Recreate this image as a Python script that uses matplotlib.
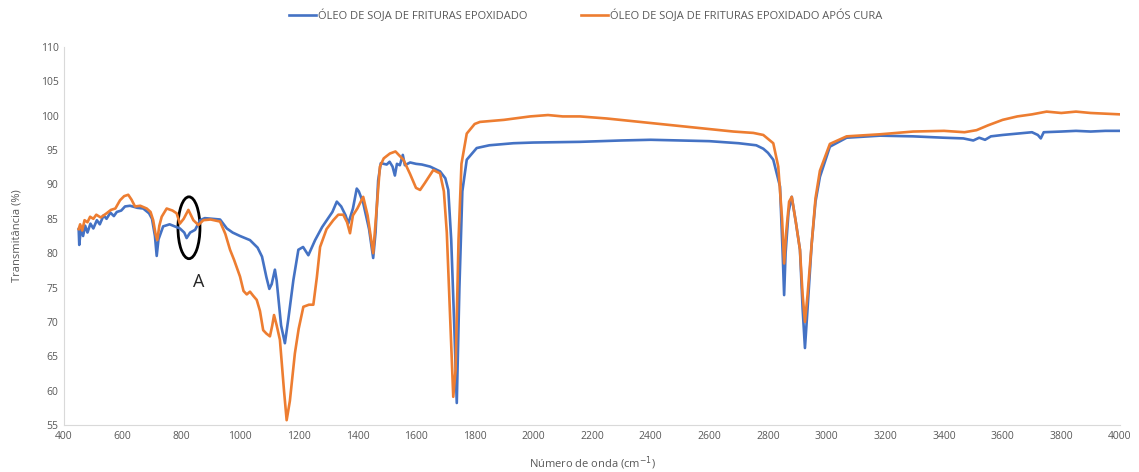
import matplotlib
matplotlib.use('Agg')
import matplotlib.pyplot as plt
from matplotlib.patches import Ellipse

# wavenumber (cm-1) / transmittance (%)
blue_x = [450, 452, 458, 465, 472, 480, 490, 500, 512, 522, 535, 545, 558, 570, 580,
          595, 608, 625, 650, 670, 690, 700, 710, 716, 722, 738, 760, 795, 810, 818,
          830, 847, 864, 880, 932, 955, 975, 1000, 1034, 1060, 1075, 1090, 1100, 1108,
          1119, 1125, 1140, 1153, 1165, 1182, 1199, 1215, 1233, 1256, 1280, 1296, 1315,
          1330, 1345, 1360, 1369, 1385, 1398, 1405, 1420, 1440, 1454, 1462, 1471, 1480,
          1500, 1510, 1520, 1528, 1535, 1545, 1555, 1562, 1580, 1600, 1620, 1648, 1682,
          1700, 1710, 1720, 1730, 1739, 1748, 1758, 1773, 1807, 1850, 1932, 2000, 2159,
          2300, 2400, 2500, 2600, 2700, 2760, 2784, 2800, 2818, 2841, 2850, 2855, 2860,
          2870, 2881, 2895, 2909, 2918, 2926, 2935, 2949, 2962, 2977, 3011, 3068, 3182,
          3295, 3400, 3466, 3500, 3520, 3540, 3560, 3600, 3650, 3700, 3720, 3730, 3740,
          3800, 3850, 3900, 3950, 4000]
blue_y = [83.5, 81.2, 83.8, 82.5, 84.0, 83.0, 84.3, 83.6, 84.8, 84.2, 85.5, 85.0, 85.9,
          85.4, 86.0, 86.2, 86.8, 86.9, 86.6, 86.5, 85.8, 85.0, 82.5, 79.6, 82.0, 83.9,
          84.2, 83.6, 83.0, 82.2, 83.0, 83.4, 84.8, 85.1, 84.9, 83.6, 83.0, 82.5, 81.9,
          80.8, 79.5, 76.5, 74.8, 75.5, 77.6, 76.0, 69.5, 66.9, 70.5, 76.1, 80.5, 80.9,
          79.7, 81.9, 83.8, 84.8, 86.0, 87.5, 86.8, 85.5, 84.3, 86.5, 89.4, 89.0, 87.3,
          83.5, 79.3, 83.0, 90.6, 93.1, 92.9, 93.3, 92.6, 91.3, 93.0, 92.8, 94.3, 92.8,
          93.2, 93.0, 92.9, 92.6, 91.9, 90.9, 89.2, 82.0, 70.0, 58.2, 75.0, 89.0, 93.6,
          95.3, 95.7, 96.0, 96.1, 96.2, 96.4, 96.5, 96.4, 96.3, 96.0, 95.7, 95.2, 94.6,
          93.6, 89.7, 80.0, 73.9, 80.0, 86.0, 88.2, 84.5, 80.5, 72.0, 66.2, 72.0, 81.4,
          87.5, 91.1, 95.5, 96.8, 97.1, 97.0, 96.8, 96.7, 96.4, 96.8, 96.5, 97.0, 97.2,
          97.4, 97.6, 97.2, 96.7, 97.6, 97.7, 97.8, 97.7, 97.8, 97.8]

orange_x = [450, 455, 462, 470, 480, 489, 500, 510, 525, 545, 560, 575, 591, 605, 619,
            630, 642, 660, 682, 695, 704, 712, 718, 725, 733, 750, 770, 784, 795, 808,
            818, 824, 832, 841, 858, 875, 900, 932, 950, 966, 980, 1000, 1012, 1023, 1034,
            1045, 1057, 1068, 1079, 1090, 1102, 1110, 1116, 1125, 1136, 1150, 1159, 1170,
            1187, 1200, 1216, 1235, 1250, 1262, 1273, 1295, 1318, 1335, 1352, 1365, 1375,
            1385, 1400, 1420, 1435, 1454, 1465, 1477, 1490, 1511, 1530, 1557, 1580, 1600,
            1614, 1630, 1659, 1682, 1695, 1705, 1715, 1727, 1735, 1745, 1755, 1773, 1800,
            1818, 1900, 1989, 2050, 2100, 2159, 2250, 2364, 2477, 2591, 2682, 2750, 2784,
            2818, 2835, 2848, 2855, 2862, 2872, 2881, 2895, 2909, 2918, 2926, 2935, 2949,
            2962, 2977, 3011, 3068, 3182, 3295, 3400, 3470, 3511, 3550, 3600, 3650, 3700,
            3750, 3800, 3850, 3900, 3950, 4000]
orange_y = [83.5, 84.2, 83.3, 84.8, 84.5, 85.3, 85.0, 85.6, 85.2, 85.8, 86.3, 86.5, 87.7,
            88.3, 88.5, 87.8, 86.8, 86.9, 86.5, 86.0, 84.8, 82.8, 81.9, 84.0, 85.3, 86.5,
            86.2, 85.8, 84.3, 85.0, 85.8, 86.3, 85.6, 84.8, 84.1, 84.8, 84.9, 84.6, 82.8,
            80.5, 79.0, 76.6, 74.5, 74.0, 74.4, 73.8, 73.2, 71.6, 68.8, 68.3, 67.9, 69.5,
            71.0, 69.5, 67.4, 60.0, 55.7, 58.5, 65.4, 69.0, 72.2, 72.5, 72.5, 76.5, 80.9,
            83.5, 84.8, 85.6, 85.6, 84.5, 82.9, 85.5, 86.5, 88.2, 85.5, 80.0, 86.0, 92.6,
            93.8, 94.5, 94.8, 93.6, 91.5, 89.5, 89.2, 90.2, 92.1, 91.6, 89.0, 83.0, 72.0,
            59.1, 63.0, 82.0, 93.0, 97.4, 98.8, 99.1, 99.4, 99.9, 100.1, 99.9, 99.9, 99.6,
            99.1, 98.6, 98.1, 97.7, 97.5, 97.2, 96.0, 92.6, 85.0, 78.5, 83.0, 87.5, 88.2,
            84.5, 80.5, 74.0, 70.0, 74.0, 81.4, 88.0, 92.0, 95.9, 97.0, 97.3, 97.7, 97.8,
            97.6, 97.9, 98.6, 99.4, 99.9, 100.2, 100.6, 100.4, 100.6, 100.4, 100.3, 100.2]

labels = ['ÓLEO DE SOJA DE FRITURAS EPOXIDADO',
          'ÓLEO DE SOJA DE FRITURAS EPOXIDADO APÓS CURA']

grey = '#595959'
plt.rcParams['font.family'] = ['Open Sans', 'DejaVu Sans']

fig = plt.figure(figsize=(11.39, 4.72), dpi=100)
ax = fig.add_axes([0.0562, 0.0996, 0.9271, 0.8008])

ax.plot(blue_x, blue_y, color='#4472C4', lw=1.9, label=labels[0])
ax.plot(orange_x, orange_y, color='#ED7D31', lw=1.9, label=labels[1])

ax.set_xlim(400, 4000)
ax.set_ylim(55, 110)
ax.set_xticks(range(400, 4001, 200))
ax.set_yticks(range(55, 111, 5))
ax.tick_params(length=0, labelsize=7.5, colors=grey, pad=4)
for s in ['top', 'right']:
    ax.spines[s].set_visible(False)
for s in ['left', 'bottom']:
    ax.spines[s].set_color('#D9D9D9')

ax.set_xlabel('Número de onda (cm$^{-1}$)', fontsize=8, color=grey, labelpad=9)
ax.set_ylabel('Transmitância (%)', fontsize=8, color=grey, labelpad=13)

# marker for region A
ax.add_patch(Ellipse((826, 83.7), 75, 9, fill=False, edgecolor='black', lw=2))
ax.text(860, 75.8, 'A', fontsize=13, color='#262626', ha='center', va='center')

ax.legend(loc='lower center', bbox_to_anchor=(0.494, 1.04), ncol=2, frameon=False,
          fontsize=8, labelcolor=grey, handlelength=2.4, columnspacing=4.8,
          handletextpad=0.2)

fig.savefig('out.png', dpi=100)
